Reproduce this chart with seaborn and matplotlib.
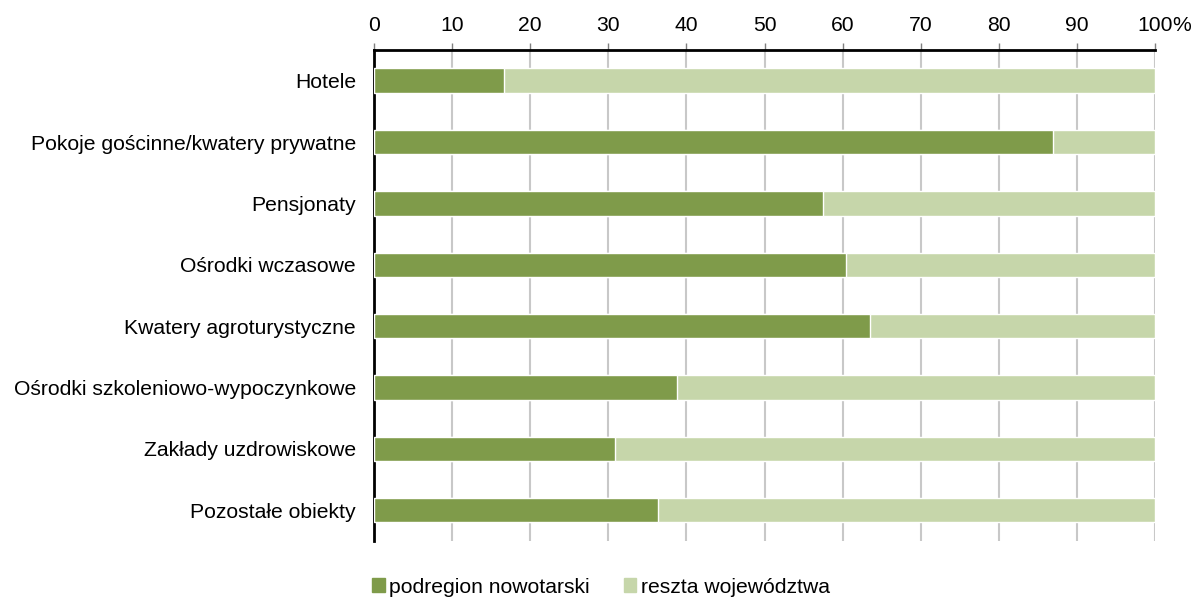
import pandas as pd
import numpy as np
import matplotlib.pyplot as plt
import seaborn as sns
from matplotlib.patches import Patch

# dane
kategorie = [
    "Hotele",
    "Pokoje gościnne/kwatery prywatne",
    "Pensjonaty",
    "Ośrodki wczasowe",
    "Kwatery agroturystyczne",
    "Ośrodki szkoleniowo-wypoczynkowe",
    "Zakłady uzdrowiskowe",
    "Pozostałe obiekty",
]
podregion = [16.6, 87.0, 57.5, 60.4, 63.5, 38.8, 30.8, 36.4]
reszta = [83.4, 13.0, 42.5, 39.6, 36.5, 61.2, 69.2, 63.6]
etykiety_x = ["0", "10", "20", "30", "40", "50", "60", "70", "80", "90", "100"]

kolor_ciemny = "#7F9B4A"
kolor_jasny = "#C6D6AA"

sns.set_theme(style="white")
plt.rcParams["font.family"] = ["Liberation Sans", "DejaVu Sans"]
plt.rcParams["font.size"] = 15.2
plt.rcParams["text.color"] = "black"
plt.rcParams["xtick.color"] = "black"
plt.rcParams["ytick.color"] = "black"

df = pd.DataFrame({"kategoria": kategorie, "podregion": podregion, "reszta": reszta})
df["suma"] = df["podregion"] + df["reszta"]

fig = plt.figure(figsize=(11.95, 5.99), dpi=100)
ax = fig.add_axes([0.313, 0.097, 0.6535, 0.8195])

sns.barplot(data=df, y="kategoria", x="suma", orient="h", color=kolor_jasny,
            width=0.4, saturation=1, ax=ax, zorder=2)
sns.barplot(data=df, y="kategoria", x="podregion", orient="h", color=kolor_ciemny,
            width=0.4, saturation=1, ax=ax, zorder=3)

ax.set_xlim(0, 100)
ax.set_ylim(7.5, -0.5)
ax.set_xlabel("")
ax.set_ylabel("")

ax.xaxis.tick_top()
ax.set_xticks(np.arange(0, 101, 10))
ax.set_xticklabels(etykiety_x, fontsize=15.2)
ax.annotate("%", xy=(1, 1), xycoords="axes fraction", xytext=(12.5, 11),
            textcoords="offset points", ha="left", va="bottom", fontsize=15.2)
ax.tick_params(axis="x", direction="out", length=5, width=1, color="#7f7f7f", pad=6)
ax.tick_params(axis="y", length=0, pad=13, labelsize=15.2)

ax.grid(axis="x", color="#C8C8C8", linewidth=1.5, zorder=0)
ax.set_axisbelow(True)

for s in ["right", "bottom"]:
    ax.spines[s].set_visible(False)
ax.spines["top"].set_color("black")
ax.spines["top"].set_linewidth(2)
ax.spines["left"].set_color("black")
ax.spines["left"].set_linewidth(2)

uchwyty = [Patch(color=kolor_ciemny, label="podregion nowotarski"),
           Patch(color=kolor_jasny, label="reszta województwa")]
fig.legend(handles=uchwyty, loc="center", bbox_to_anchor=(0.503, 0.02), ncol=2,
           frameon=False, fontsize=15.2, handlelength=0.6, handleheight=0.6,
           handletextpad=0.2, columnspacing=1.6)

fig.savefig("out.png", dpi=100, facecolor="white")
